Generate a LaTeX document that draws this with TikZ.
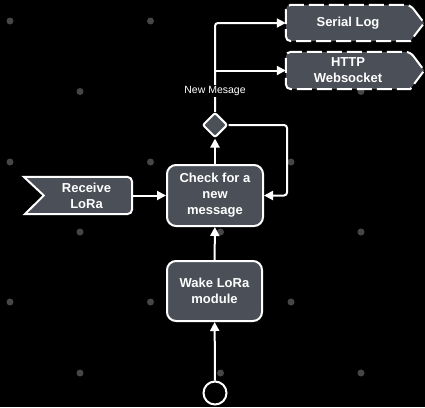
\documentclass[tikz,border=0pt]{standalone}
\usepackage{fontspec}
\setmainfont{Liberation Sans}
\usetikzlibrary{shapes.geometric,arrows.meta,calc}
\definecolor{boxfill}{RGB}{75,79,87}
\definecolor{dotgray}{RGB}{70,70,70}
\tikzset{
  procbox/.style={rectangle, rounded corners=9pt, draw=white, line width=2pt, fill=boxfill,
    text=white, font=\fontsize{13}{16}\selectfont\bfseries, align=center, inner sep=0pt},
  plainbox/.style={rectangle, draw=none, text=white, font=\fontsize{13}{16}\selectfont\bfseries,
    align=center, inner sep=0pt},
  flowarrow/.style={draw=white, line width=2pt, -{Triangle[length=9pt,width=9pt]}},
  flowline/.style={draw=white, line width=2pt},
  shapeline/.style={draw=white, line width=2pt, fill=boxfill},
  dashline/.style={draw=white, line width=2pt, fill=boxfill, dash pattern=on 15pt off 5pt},
  griddot/.style={fill=dotgray}
}
\begin{document}
\begin{tikzpicture}[x=1pt,y=-1pt]
\fill[black] (0,0) rectangle (425,407);
\useasboundingbox (0,0) rectangle (425,407);
% background dots
\foreach \yy in {21,162,302} {\foreach \xx in {10,150.5,291} {\fill[griddot] (\xx,\yy) circle (3.5);}}
\foreach \yy in {91.5,232,373} {\foreach \xx in {80,220.5,361} {\fill[griddot] (\xx,\yy) circle (3.5);}}

% nodes
\node[procbox, minimum width=96pt, minimum height=61pt] (check) at (215,195.5) {Check for a\\new\\message};
\node[procbox, minimum width=95pt, minimum height=60pt] (wake) at (214.5,291) {Wake LoRa\\module};
\node[circle, draw=white, line width=2pt, fill=black, minimum size=23pt, inner sep=0pt] (start) at (215,393) {};
\node[diamond, draw=white, line width=2pt, fill=boxfill, minimum size=25pt, inner sep=0pt, rounded corners=2pt] (dia) at (215,125) {};

% Receive LoRa (notched flag)
\node[plainbox, minimum width=107pt, minimum height=37pt] (recv) at (78.5,195.5) {};
\path[shapeline] ([xshift=-1pt]recv.north west) -- ([xshift=-5pt]recv.north east) [rounded corners=5pt] -- (recv.north east) -- (recv.south east) [sharp corners] -- ([xshift=-5pt]recv.south east) -- (recv.south west) -- ($(recv.west)+(19,0)$) -- cycle;
\node[plainbox] at ($(recv.center)+(8,0)$) {Receive\\LoRa};

% Serial Log (dashed pentagon)
\node[plainbox, minimum width=124pt, minimum height=36pt] (serial) at (348,23) {};
\path[dashline] ($(serial.north east)$) -- ($(serial.east)+(14,0)$) -- (serial.south east) [rounded corners=5pt] -- (serial.south west) -- (serial.north west) -- cycle;
\node[plainbox] at (serial.center) {Serial Log};

% HTTP Websocket (dashed pentagon)
\node[plainbox, minimum width=124pt, minimum height=37pt] (http) at (348,70.5) {};
\path[dashline] ($(http.north east)$) -- ($(http.east)+(14,0)$) -- (http.south east) [rounded corners=5pt] -- (http.south west) -- (http.north west) -- cycle;
\node[plainbox] at (http.center) {HTTP\\Websocket};

% connectors
\draw[flowarrow] (start) -- (wake);
\draw[flowarrow] (wake) -- (check);
\draw[flowarrow] (recv.east) -- (check.west);
\draw[flowarrow] (check) -- (dia);
\coordinate (loop) at (287,125);
\draw[flowarrow, rounded corners=3pt] (dia.east) -- (loop) |- (check.east);
\draw[flowarrow, rounded corners=3pt] (dia.north) |- (serial.west);
\draw[flowarrow] (dia.north) |- (http.west);

\node[fill=black, text=white, inner sep=1pt, font=\fontsize{10.5}{12}\selectfont] (lbl) at (215,91) {New Mesage};
\end{tikzpicture}
\end{document}
